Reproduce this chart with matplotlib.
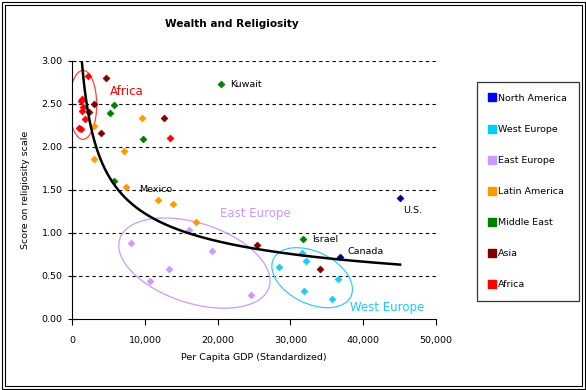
import numpy as np
import matplotlib
matplotlib.use("Agg")
import matplotlib.pyplot as plt
from matplotlib.patches import Ellipse, Rectangle
from matplotlib.lines import Line2D
from matplotlib.transforms import Affine2D

plt.rcParams['font.family'] = 'DejaVu Sans'

# region data: (per capita GDP, religiosity score)
north_america_gdp = [36800, 45100]
north_america_score = [0.72, 1.41]
west_europe_gdp = [31650, 32150, 28400, 36550, 31900, 35700]
west_europe_score = [0.77, 0.67, 0.61, 0.47, 0.33, 0.23]
east_europe_gdp = [16000, 8050, 13250, 10750, 19200, 24600]
east_europe_score = [1.03, 0.88, 0.58, 0.44, 0.79, 0.28]
latin_america_gdp = [9550, 3000, 7050, 3050, 7400, 11800, 13800, 17050]
latin_america_score = [2.34, 2.24, 1.95, 1.86, 1.54, 1.38, 1.34, 1.13]
middle_east_gdp = [5800, 5150, 9700, 5750, 20500, 31700]
middle_east_score = [2.49, 2.39, 2.09, 1.61, 2.73, 0.93]
asia_gdp = [4600, 2950, 2350, 3950, 12600, 25400, 34100]
asia_score = [2.80, 2.50, 2.41, 2.16, 2.34, 0.86, 0.58]
africa_gdp = [2200, 1200, 1350, 1500, 1350, 1800, 950, 1150, 13400]
africa_score = [2.82, 2.53, 2.56, 2.47, 2.42, 2.32, 2.22, 2.21, 2.11]

regions = ['North America', 'West Europe', 'East Europe', 'Latin America',
           'Middle East', 'Asia', 'Africa']
point_colors = ['#000099', '#1ECBF5', '#CC99FF', '#FF9900', '#008000', '#800000', '#FF0000']
legend_colors = ['#0000FF', '#00CCFF', '#CC99FF', '#FF9900', '#008000', '#800000', '#FF0000']
xs = [north_america_gdp, west_europe_gdp, east_europe_gdp, latin_america_gdp,
      middle_east_gdp, asia_gdp, africa_gdp]
ys = [north_america_score, west_europe_score, east_europe_score, latin_america_score,
      middle_east_score, asia_score, africa_score]

fig = plt.figure(figsize=(5.86, 3.90), dpi=100)
ax = fig.add_axes([0.1234, 0.1821, 0.6201, 0.6615])

# dashed gridlines
for yv in [0.5, 1.0, 1.5, 2.0, 2.5, 3.0]:
    ax.axhline(yv, color='black', lw=0.8, ls=(0, (3, 3)), zorder=1)

for gx, gy, c in zip(xs, ys, point_colors):
    ax.scatter(gx, gy, marker='D', s=12, color=c, edgecolors=c, linewidths=0.5, zorder=3)

# power trendline fitted to all points
all_x = np.concatenate([np.array(v, float) for v in xs])
all_y = np.concatenate([np.array(v, float) for v in ys])
b, ln_a = np.polyfit(np.log(all_x), np.log(all_y), 1)
tx = np.linspace(all_x.min(), all_x.max(), 300)
ax.plot(tx, np.exp(ln_a) * tx ** b, color='black', lw=1.8, zorder=4)

# hand-drawn ellipses (sizes in reference pixels)
sx, sy = 50000 / 363.4, 3.0 / 258.0
def ring(cx, cy, w, h, ang, col):
    tr = Affine2D().scale(sx, sy).translate(cx, cy) + ax.transData
    ax.add_patch(Ellipse((0, 0), w, h, angle=ang, fill=False, edgecolor=col,
                         lw=0.9, transform=tr, zorder=2))
ring(1470, 2.49, 27.4, 69, 0, '#FF4040')
ring(16800, 0.65, 157, 80, -18, '#CC99FF')
ring(33000, 0.48, 86, 52, -26, '#33CCFF')

# annotations
ax.text(5200, 2.64, 'Africa', color='#FF0000', fontsize=8.5, va='center')
ax.text(21700, 2.73, 'Kuwait', color='black', fontsize=6.8, va='center')
ax.text(9200, 1.50, 'Mexico', color='black', fontsize=6.8, va='center')
ax.text(45500, 1.26, 'U.S.', color='black', fontsize=6.8, va='center')
ax.text(33000, 0.93, 'Israel', color='black', fontsize=6.8, va='center')
ax.text(37800, 0.79, 'Canada', color='black', fontsize=6.8, va='center')
ax.text(20300, 1.23, 'East Europe', color='#CC99FF', fontsize=8.5, va='center')
ax.text(38200, 0.13, 'West Europe', color='#1ECBF5', fontsize=8.5, va='center')

ax.set_xlim(0, 50000)
ax.set_ylim(0, 3.0)
ax.set_xticks(np.arange(0, 50001, 10000))
ax.set_xticklabels(['0', '10,000', '20,000', '30,000', '40,000', '50,000'])
ax.set_yticks(np.arange(0, 3.01, 0.5))
ax.set_yticklabels(['%.2f' % v for v in np.arange(0, 3.01, 0.5)])
ax.tick_params(axis='x', direction='out', length=4, width=0.8, labelsize=6.8, pad=8)
ax.tick_params(axis='y', direction='inout', length=6, width=0.8, labelsize=6.8, pad=4)
for side in ['top', 'right']:
    ax.spines[side].set_visible(False)
for side in ['left', 'bottom']:
    ax.spines[side].set_linewidth(0.8)
ax.set_xlabel('Per Capita GDP (Standardized)', fontsize=6.8, labelpad=6)
ax.set_ylabel('Score on religiosity scale', fontsize=6.8, labelpad=8)
fig.text(232 / 586, 1 - 24 / 390, 'Wealth and Religiosity', fontsize=7.6,
         fontweight='bold', ha='center', va='center')

handles = [Line2D([], [], marker='s', ls='none', markersize=5.5, color=c) for c in legend_colors]
leg = fig.legend(handles, regions, loc='upper left', bbox_to_anchor=(477 / 586, 1 - 82 / 390),
                 fontsize=6.8, frameon=True, fancybox=False, labelspacing=2.33,
                 handlelength=0.6, handletextpad=0.4, borderpad=1.25, borderaxespad=0)
leg.get_frame().set_edgecolor('black')
leg.get_frame().set_linewidth(0.9)

# double border round the chart area
for inset in [1.5, 4.5]:
    fig.patches.append(Rectangle((inset / 586, inset / 390), 1 - 2 * inset / 586, 1 - 2 * inset / 390,
                                 transform=fig.transFigure, fill=False, edgecolor='black', lw=0.8))

plt.savefig("out.png", dpi=100)
